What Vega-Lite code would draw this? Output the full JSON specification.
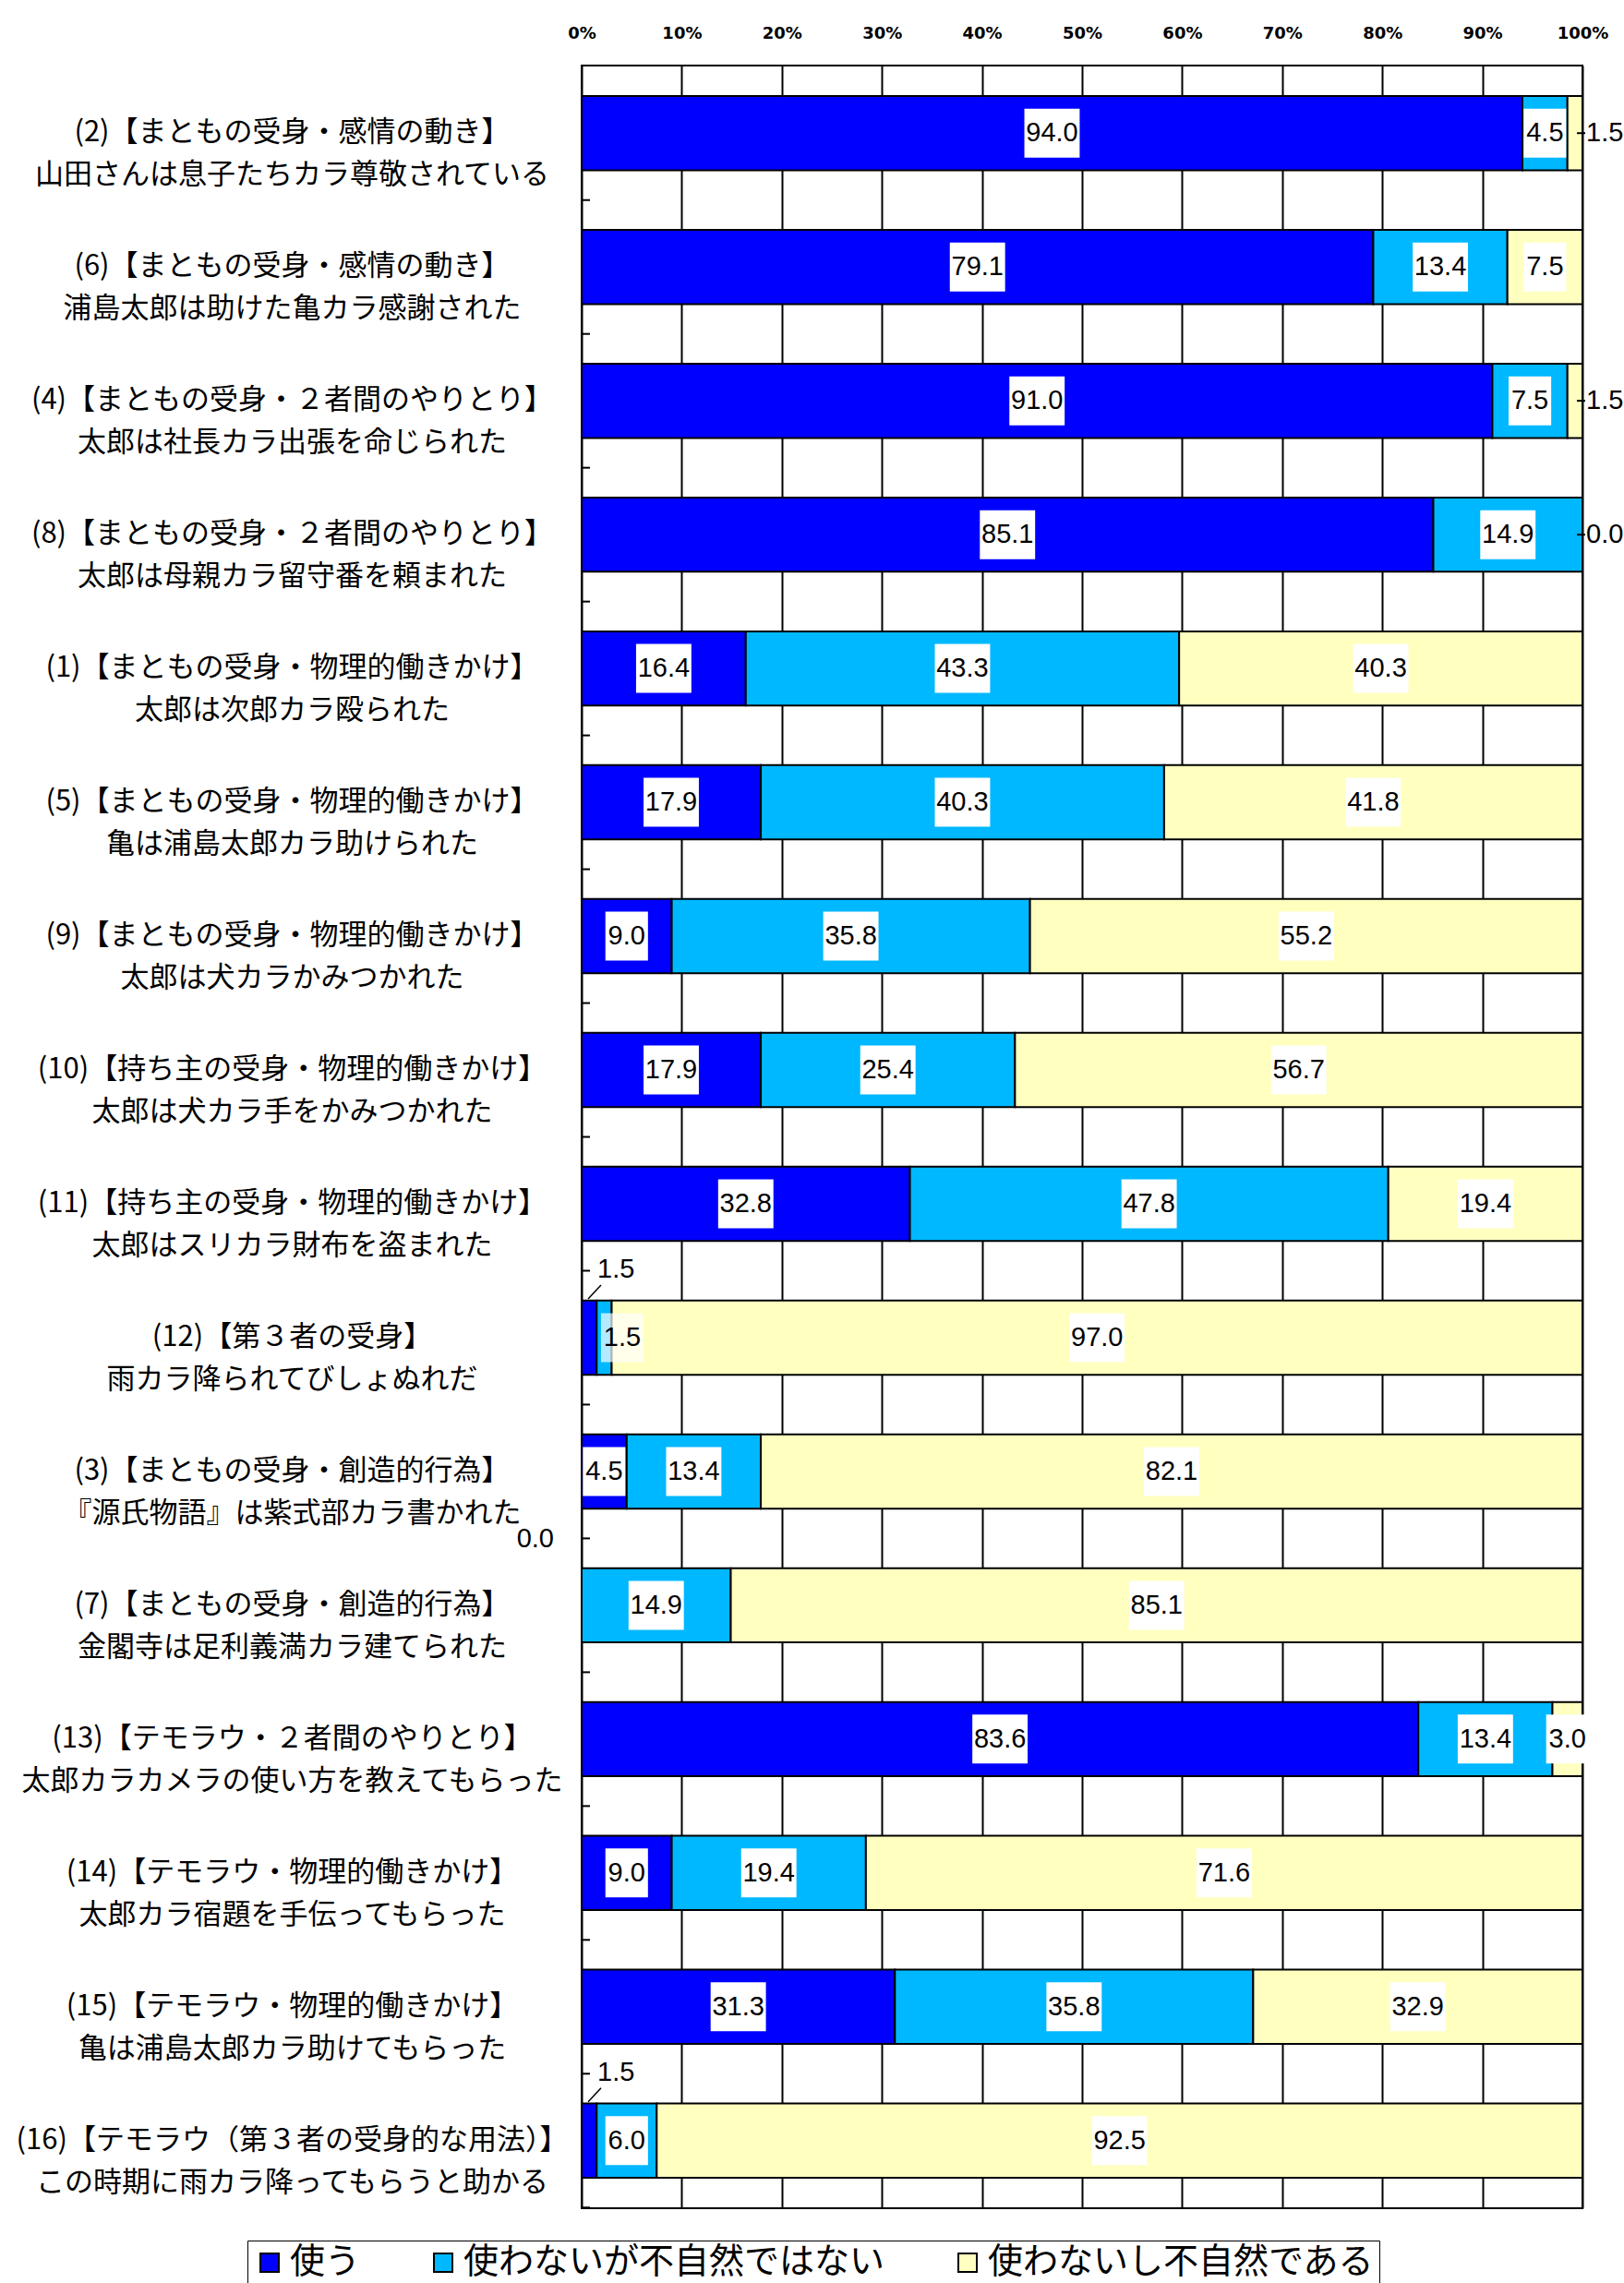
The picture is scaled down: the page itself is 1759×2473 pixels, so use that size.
{
  "$schema": "https://vega.github.io/schema/vega-lite/v6.json",
  "width": 1084,
  "height": 2321,
  "autosize": {"type": "none"},
  "padding": {"left": 630, "top": 71, "right": 45, "bottom": 81},
  "background": "white",
  "config": {"view": {"stroke": "black", "strokeWidth": 2}, "font": "Noto Sans CJK JP"},
  "data": {"values": [
    {"item": "(2)【まともの受身・感情の動き】\n山田さんは息子たちカラ尊敬されている", "cat": "使う", "k": 1, "value": 94.0},
    {"item": "(2)【まともの受身・感情の動き】\n山田さんは息子たちカラ尊敬されている", "cat": "使わないが不自然ではない", "k": 2, "value": 4.5},
    {"item": "(2)【まともの受身・感情の動き】\n山田さんは息子たちカラ尊敬されている", "cat": "使わないし不自然である", "k": 3, "value": 1.5},
    {"item": "(6)【まともの受身・感情の動き】\n浦島太郎は助けた亀カラ感謝された", "cat": "使う", "k": 1, "value": 79.1},
    {"item": "(6)【まともの受身・感情の動き】\n浦島太郎は助けた亀カラ感謝された", "cat": "使わないが不自然ではない", "k": 2, "value": 13.4},
    {"item": "(6)【まともの受身・感情の動き】\n浦島太郎は助けた亀カラ感謝された", "cat": "使わないし不自然である", "k": 3, "value": 7.5},
    {"item": "(4)【まともの受身・２者間のやりとり】\n太郎は社長カラ出張を命じられた", "cat": "使う", "k": 1, "value": 91.0},
    {"item": "(4)【まともの受身・２者間のやりとり】\n太郎は社長カラ出張を命じられた", "cat": "使わないが不自然ではない", "k": 2, "value": 7.5},
    {"item": "(4)【まともの受身・２者間のやりとり】\n太郎は社長カラ出張を命じられた", "cat": "使わないし不自然である", "k": 3, "value": 1.5},
    {"item": "(8)【まともの受身・２者間のやりとり】\n太郎は母親カラ留守番を頼まれた", "cat": "使う", "k": 1, "value": 85.1},
    {"item": "(8)【まともの受身・２者間のやりとり】\n太郎は母親カラ留守番を頼まれた", "cat": "使わないが不自然ではない", "k": 2, "value": 14.9},
    {"item": "(8)【まともの受身・２者間のやりとり】\n太郎は母親カラ留守番を頼まれた", "cat": "使わないし不自然である", "k": 3, "value": 0.0},
    {"item": "(1)【まともの受身・物理的働きかけ】\n太郎は次郎カラ殴られた", "cat": "使う", "k": 1, "value": 16.4},
    {"item": "(1)【まともの受身・物理的働きかけ】\n太郎は次郎カラ殴られた", "cat": "使わないが不自然ではない", "k": 2, "value": 43.3},
    {"item": "(1)【まともの受身・物理的働きかけ】\n太郎は次郎カラ殴られた", "cat": "使わないし不自然である", "k": 3, "value": 40.3},
    {"item": "(5)【まともの受身・物理的働きかけ】\n亀は浦島太郎カラ助けられた", "cat": "使う", "k": 1, "value": 17.9},
    {"item": "(5)【まともの受身・物理的働きかけ】\n亀は浦島太郎カラ助けられた", "cat": "使わないが不自然ではない", "k": 2, "value": 40.3},
    {"item": "(5)【まともの受身・物理的働きかけ】\n亀は浦島太郎カラ助けられた", "cat": "使わないし不自然である", "k": 3, "value": 41.8},
    {"item": "(9)【まともの受身・物理的働きかけ】\n太郎は犬カラかみつかれた", "cat": "使う", "k": 1, "value": 9.0},
    {"item": "(9)【まともの受身・物理的働きかけ】\n太郎は犬カラかみつかれた", "cat": "使わないが不自然ではない", "k": 2, "value": 35.8},
    {"item": "(9)【まともの受身・物理的働きかけ】\n太郎は犬カラかみつかれた", "cat": "使わないし不自然である", "k": 3, "value": 55.2},
    {"item": "(10)【持ち主の受身・物理的働きかけ】\n太郎は犬カラ手をかみつかれた", "cat": "使う", "k": 1, "value": 17.9},
    {"item": "(10)【持ち主の受身・物理的働きかけ】\n太郎は犬カラ手をかみつかれた", "cat": "使わないが不自然ではない", "k": 2, "value": 25.4},
    {"item": "(10)【持ち主の受身・物理的働きかけ】\n太郎は犬カラ手をかみつかれた", "cat": "使わないし不自然である", "k": 3, "value": 56.7},
    {"item": "(11)【持ち主の受身・物理的働きかけ】\n太郎はスリカラ財布を盗まれた", "cat": "使う", "k": 1, "value": 32.8},
    {"item": "(11)【持ち主の受身・物理的働きかけ】\n太郎はスリカラ財布を盗まれた", "cat": "使わないが不自然ではない", "k": 2, "value": 47.8},
    {"item": "(11)【持ち主の受身・物理的働きかけ】\n太郎はスリカラ財布を盗まれた", "cat": "使わないし不自然である", "k": 3, "value": 19.4},
    {"item": "(12)【第３者の受身】\n雨カラ降られてびしょぬれだ", "cat": "使う", "k": 1, "value": 1.5},
    {"item": "(12)【第３者の受身】\n雨カラ降られてびしょぬれだ", "cat": "使わないが不自然ではない", "k": 2, "value": 1.5},
    {"item": "(12)【第３者の受身】\n雨カラ降られてびしょぬれだ", "cat": "使わないし不自然である", "k": 3, "value": 97.0},
    {"item": "(3)【まともの受身・創造的行為】\n『源氏物語』は紫式部カラ書かれた", "cat": "使う", "k": 1, "value": 4.5},
    {"item": "(3)【まともの受身・創造的行為】\n『源氏物語』は紫式部カラ書かれた", "cat": "使わないが不自然ではない", "k": 2, "value": 13.4},
    {"item": "(3)【まともの受身・創造的行為】\n『源氏物語』は紫式部カラ書かれた", "cat": "使わないし不自然である", "k": 3, "value": 82.1},
    {"item": "(7)【まともの受身・創造的行為】\n金閣寺は足利義満カラ建てられた", "cat": "使う", "k": 1, "value": 0.0},
    {"item": "(7)【まともの受身・創造的行為】\n金閣寺は足利義満カラ建てられた", "cat": "使わないが不自然ではない", "k": 2, "value": 14.9},
    {"item": "(7)【まともの受身・創造的行為】\n金閣寺は足利義満カラ建てられた", "cat": "使わないし不自然である", "k": 3, "value": 85.1},
    {"item": "(13)【テモラウ・２者間のやりとり】\n太郎カラカメラの使い方を教えてもらった", "cat": "使う", "k": 1, "value": 83.6},
    {"item": "(13)【テモラウ・２者間のやりとり】\n太郎カラカメラの使い方を教えてもらった", "cat": "使わないが不自然ではない", "k": 2, "value": 13.4},
    {"item": "(13)【テモラウ・２者間のやりとり】\n太郎カラカメラの使い方を教えてもらった", "cat": "使わないし不自然である", "k": 3, "value": 3.0},
    {"item": "(14)【テモラウ・物理的働きかけ】\n太郎カラ宿題を手伝ってもらった", "cat": "使う", "k": 1, "value": 9.0},
    {"item": "(14)【テモラウ・物理的働きかけ】\n太郎カラ宿題を手伝ってもらった", "cat": "使わないが不自然ではない", "k": 2, "value": 19.4},
    {"item": "(14)【テモラウ・物理的働きかけ】\n太郎カラ宿題を手伝ってもらった", "cat": "使わないし不自然である", "k": 3, "value": 71.6},
    {"item": "(15)【テモラウ・物理的働きかけ】\n亀は浦島太郎カラ助けてもらった", "cat": "使う", "k": 1, "value": 31.3},
    {"item": "(15)【テモラウ・物理的働きかけ】\n亀は浦島太郎カラ助けてもらった", "cat": "使わないが不自然ではない", "k": 2, "value": 35.8},
    {"item": "(15)【テモラウ・物理的働きかけ】\n亀は浦島太郎カラ助けてもらった", "cat": "使わないし不自然である", "k": 3, "value": 32.9},
    {"item": "(16)【テモラウ（第３者の受身的な用法）】\nこの時期に雨カラ降ってもらうと助かる", "cat": "使う", "k": 1, "value": 1.5},
    {"item": "(16)【テモラウ（第３者の受身的な用法）】\nこの時期に雨カラ降ってもらうと助かる", "cat": "使わないが不自然ではない", "k": 2, "value": 6.0},
    {"item": "(16)【テモラウ（第３者の受身的な用法）】\nこの時期に雨カラ降ってもらうと助かる", "cat": "使わないし不自然である", "k": 3, "value": 92.5}
  ]},
  "encoding": {
    "y": {
      "field": "item", "type": "nominal", "title": null,
      "scale": {
        "domain": [
          "(2)【まともの受身・感情の動き】\n山田さんは息子たちカラ尊敬されている",
          "(6)【まともの受身・感情の動き】\n浦島太郎は助けた亀カラ感謝された",
          "(4)【まともの受身・２者間のやりとり】\n太郎は社長カラ出張を命じられた",
          "(8)【まともの受身・２者間のやりとり】\n太郎は母親カラ留守番を頼まれた",
          "(1)【まともの受身・物理的働きかけ】\n太郎は次郎カラ殴られた",
          "(5)【まともの受身・物理的働きかけ】\n亀は浦島太郎カラ助けられた",
          "(9)【まともの受身・物理的働きかけ】\n太郎は犬カラかみつかれた",
          "(10)【持ち主の受身・物理的働きかけ】\n太郎は犬カラ手をかみつかれた",
          "(11)【持ち主の受身・物理的働きかけ】\n太郎はスリカラ財布を盗まれた",
          "(12)【第３者の受身】\n雨カラ降られてびしょぬれだ",
          "(3)【まともの受身・創造的行為】\n『源氏物語』は紫式部カラ書かれた",
          "(7)【まともの受身・創造的行為】\n金閣寺は足利義満カラ建てられた",
          "(13)【テモラウ・２者間のやりとり】\n太郎カラカメラの使い方を教えてもらった",
          "(14)【テモラウ・物理的働きかけ】\n太郎カラ宿題を手伝ってもらった",
          "(15)【テモラウ・物理的働きかけ】\n亀は浦島太郎カラ助けてもらった",
          "(16)【テモラウ（第３者の受身的な用法）】\nこの時期に雨カラ降ってもらうと助かる"
        ],
        "paddingInner": 0.445, "paddingOuter": 0.2276
      },
      "axis": {
        "orient": "left", "domain": false, "grid": false, "ticks": false,
        "labelExpr": "split(datum.label, '\\n')",
        "labelAlign": "center", "labelBaseline": "middle", "labelPadding": 314,
        "labelFont": "Noto Sans CJK JP", "labelFontSize": 31, "labelLineHeight": 46,
        "labelColor": "black", "labelLimit": 900
      }
    }
  },
  "layer": [
    {
      "mark": {"type": "bar", "stroke": "black", "strokeWidth": 2},
      "encoding": {
        "x": {
          "field": "value", "type": "quantitative", "stack": "zero", "title": null,
          "scale": {"domain": [0, 100], "nice": false},
          "axis": {
            "orient": "top", "values": [0, 10, 20, 30, 40, 50, 60, 70, 80, 90, 100],
            "labelExpr": "datum.value + '%'", "domain": false, "ticks": false,
            "grid": true, "gridColor": "black", "gridWidth": 2, "gridOpacity": 1,
            "labelFont": "DejaVu Sans", "labelFontSize": 18, "labelFontWeight": "bold", "labelColor": "black",
            "labelPadding": 26, "labelFlush": false
          }
        },
        "color": {
          "field": "cat", "type": "nominal",
          "scale": {
            "domain": ["使う", "使わないが不自然ではない", "使わないし不自然である"],
            "range": ["#0000FF", "#00B8FF", "#FFFFC0"]
          },
          "legend": {
            "orient": "none", "legendX": -362, "legendY": 2356, "direction": "horizontal",
            "title": null, "symbolType": "square", "symbolSize": 400,
            "symbolStrokeColor": "black", "symbolStrokeWidth": 2, "symbolOpacity": 1,
            "labelFont": "Noto Sans CJK JP", "labelFontSize": 38, "labelColor": "black",
            "labelOffset": 3, "columnPadding": 70, "labelLimit": 800,
            "strokeColor": "black", "padding": 5, "fillColor": "white"
          }
        },
        "order": {"field": "k", "type": "quantitative"}
      }
    },
    {
      "transform": [{"filter": "datum.k == 1"}],
      "mark": {"type": "rule", "color": "black", "strokeWidth": 2, "x2Offset": 9, "yOffset": 72.5},
      "encoding": {
        "x": {"datum": 0, "type": "quantitative", "title": null},
        "x2": {"datum": 0}
      }
    },
    {
      "mark": {"type": "point", "filled": true, "color": "white", "strokeWidth": 0, "size": 2809},
      "encoding": {
        "x": {"field": "value", "type": "quantitative", "stack": "zero", "bandPosition": 0.5, "title": null},
        "detail": {"field": "cat"},
        "order": {"field": "k", "type": "quantitative"},
        "shape": {
          "condition": {"test": "datum.value < 10", "value": "M-0.87,-1H0.87V1H-0.87Z"},
          "value": "M-1.13,-1H1.13V1H-1.13Z"
        },
        "opacity": {"condition": {"test": "datum.value < 2", "value": 0}, "value": 1}
      }
    },
    {
      "mark": {"type": "text", "font": "Liberation Sans", "fontSize": 29, "color": "black", "baseline": "middle"},
      "encoding": {
        "x": {"field": "value", "type": "quantitative", "stack": "zero", "bandPosition": 0.5, "title": null},
        "detail": {"field": "cat"},
        "order": {"field": "k", "type": "quantitative"},
        "text": {"condition": {"test": "datum.value < 2", "value": ""}, "field": "value", "type": "quantitative", "format": ".1f"}
      }
    },
    {
      "transform": [{"filter": "datum.k == 2 && datum.value < 2"}],
      "layer": [
        {
          "mark": {"type": "point", "filled": true, "color": "white", "strokeWidth": 0, "size": 2809, "shape": "M-0.87,-1H0.87V1H-0.87Z", "xOffset": 44},
          "encoding": {"x": {"datum": 0, "type": "quantitative", "title": null}}
        },
        {
          "mark": {"type": "text", "font": "Liberation Sans", "fontSize": 29, "color": "black", "baseline": "middle", "dx": 44},
          "encoding": {
            "x": {"datum": 0, "type": "quantitative", "title": null},
            "text": {"field": "value", "type": "quantitative", "format": ".1f"}
          }
        }
      ]
    },
    {
      "transform": [{"filter": "datum.k == 1 && datum.value > 0 && datum.value < 2"}],
      "layer": [
        {
          "mark": {"type": "rule", "color": "black", "strokeWidth": 1.5, "xOffset": 7, "x2Offset": 21, "yOffset": -42, "y2Offset": -57},
          "encoding": {
            "x": {"datum": 0, "type": "quantitative", "title": null},
            "x2": {"datum": 0},
            "y2": {"field": "item"}
          }
        },
        {
          "mark": {"type": "text", "font": "Liberation Sans", "fontSize": 29, "color": "black", "baseline": "middle", "align": "left", "dx": 17, "dy": -74},
          "encoding": {
            "x": {"datum": 0, "type": "quantitative", "title": null},
            "text": {"field": "value", "type": "quantitative", "format": ".1f"}
          }
        }
      ]
    },
    {
      "transform": [{"filter": "datum.k == 1 && datum.value == 0"}],
      "mark": {"type": "text", "font": "Liberation Sans", "fontSize": 29, "color": "black", "baseline": "middle", "align": "right", "dx": -30, "dy": -72},
      "encoding": {
        "x": {"datum": 0, "type": "quantitative", "title": null},
        "text": {"field": "value", "type": "quantitative", "format": ".1f"}
      }
    },
    {
      "transform": [{"filter": "datum.k == 3 && datum.value < 2"}],
      "layer": [
        {
          "mark": {"type": "rule", "color": "black", "strokeWidth": 2, "xOffset": -6, "x2Offset": 3},
          "encoding": {
            "x": {"datum": 100, "type": "quantitative", "title": null},
            "x2": {"datum": 100}
          }
        },
        {
          "mark": {"type": "text", "font": "Liberation Sans", "fontSize": 29, "color": "black", "baseline": "middle", "align": "left", "dx": 4},
          "encoding": {
            "x": {"datum": 100, "type": "quantitative", "title": null},
            "text": {"field": "value", "type": "quantitative", "format": ".1f"}
          }
        }
      ]
    }
  ]
}
